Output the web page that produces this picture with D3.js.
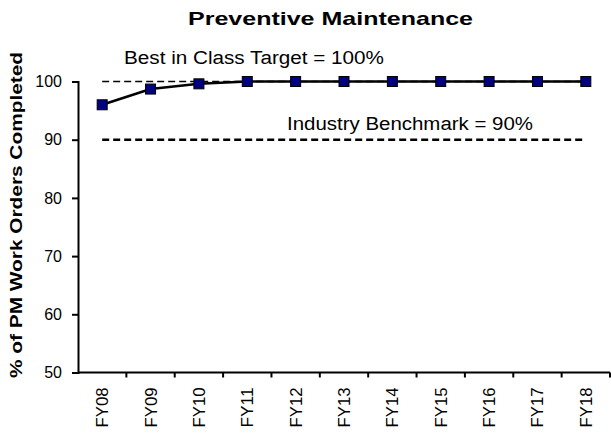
<!DOCTYPE html>
<html>
<head>
<meta charset="utf-8">
<script src="https://cdn.jsdelivr.net/npm/d3@7"></script>
<style>
    body { margin: 0; background: #fff; }
    svg { display: block; font-family: Arial, "Liberation Sans", sans-serif; }
</style>
</head>
<body>
<div id="chart"></div>
<script>
var years = ["FY08", "FY09", "FY10", "FY11", "FY12", "FY13", "FY14", "FY15", "FY16", "FY17", "FY18"];
var pmCompleted = [96, 98.7, 99.6, 100, 100, 100, 100, 100, 100, 100, 100];
var yTicks = [50, 60, 70, 80, 90, 100];
var bestInClass = 100;
var benchmark = 90;

var width = 611, height = 433;
var margin = {top: 81.5, right: 1, bottom: 60.5, left: 78};

var svg = d3.select("#chart").append("svg")
    .attr("width", width)
    .attr("height", height);

var x = d3.scaleBand()
    .domain(years)
    .range([margin.left, width - margin.right]);

var y = d3.scaleLinear()
    .domain([50, 100])
    .range([height - margin.bottom, margin.top]);

function cx(d) { return x(d) + x.bandwidth() / 2; }

// title (reference text is stretched wide, so fix its length)
svg.append("text")
    .attr("x", 188)
    .attr("y", 25)
    .attr("textLength", 285)
    .attr("lengthAdjust", "spacingAndGlyphs")
    .style("font-size", "19px")
    .style("font-weight", "bold")
    .text("Preventive Maintenance");

// y axis
var gY = svg.append("g")
    .attr("transform", "translate(" + margin.left + ",0)")
    .call(d3.axisLeft(y).tickValues(yTicks).tickSize(6).tickPadding(10));
gY.select(".domain").attr("stroke-width", 2);
gY.selectAll(".tick line").attr("stroke-width", 2);
gY.selectAll(".tick text").style("font-size", "16px").style("fill", "#000");

// x axis, ticks on category edges
var gX = svg.append("g")
    .attr("transform", "translate(0," + y(50) + ")");
gX.append("line")
    .attr("x1", margin.left)
    .attr("x2", width - margin.right)
    .attr("stroke", "#000")
    .attr("stroke-width", 2);
gX.selectAll(".edge").data(years)
    .enter().append("line")
    .attr("class", "edge")
    .attr("x1", function(d) { return x(d) + x.bandwidth(); })
    .attr("x2", function(d) { return x(d) + x.bandwidth(); })
    .attr("y1", 0)
    .attr("y2", 5)
    .attr("stroke", "#000")
    .attr("stroke-width", 2);
gX.selectAll(".lbl").data(years)
    .enter().append("text")
    .attr("class", "lbl")
    .attr("transform", function(d) { return "translate(" + (cx(d) + 6) + ",15) rotate(-90)"; })
    .attr("text-anchor", "end")
    .attr("textLength", 40)
    .attr("lengthAdjust", "spacingAndGlyphs")
    .style("font-size", "16px")
    .text(function(d) { return d; });

// y axis title
svg.append("text")
    .attr("transform", "translate(22,378) rotate(-90)")
    .attr("textLength", 326)
    .attr("lengthAdjust", "spacingAndGlyphs")
    .style("font-size", "17px")
    .style("font-weight", "bold")
    .text("% of PM Work Orders Completed");

// reference lines
svg.append("line")
    .attr("x1", cx(years[0]))
    .attr("x2", cx(years[years.length - 1]))
    .attr("y1", y(bestInClass))
    .attr("y2", y(bestInClass))
    .attr("stroke", "#000")
    .attr("stroke-width", 1.5)
    .attr("stroke-dasharray", "7,4");
svg.append("line")
    .attr("x1", cx(years[0]))
    .attr("x2", cx(years[years.length - 1]))
    .attr("y1", y(benchmark))
    .attr("y2", y(benchmark))
    .attr("stroke", "#000")
    .attr("stroke-width", 2.5)
    .attr("stroke-dasharray", "7,4");

svg.append("text")
    .attr("x", 124)
    .attr("y", 64)
    .attr("textLength", 260)
    .attr("lengthAdjust", "spacingAndGlyphs")
    .style("font-size", "18px")
    .text("Best in Class Target = 100%");
svg.append("text")
    .attr("x", 287)
    .attr("y", 130)
    .attr("textLength", 246)
    .attr("lengthAdjust", "spacingAndGlyphs")
    .style("font-size", "18px")
    .text("Industry Benchmark = 90%");

// series
var line = d3.line()
    .x(function(d, i) { return cx(years[i]); })
    .y(function(d) { return y(d); });

svg.append("path")
    .datum(pmCompleted)
    .attr("d", line)
    .attr("fill", "none")
    .attr("stroke", "#000")
    .attr("stroke-width", 2.5);

svg.selectAll(".pt").data(pmCompleted)
    .enter().append("rect")
    .attr("class", "pt")
    .attr("x", function(d, i) { return cx(years[i]) - 5; })
    .attr("y", function(d) { return y(d) - 5; })
    .attr("width", 10)
    .attr("height", 10)
    .attr("fill", "#000080")
    .attr("stroke", "#000")
    .attr("stroke-width", 1);
</script>
</body>
</html>
